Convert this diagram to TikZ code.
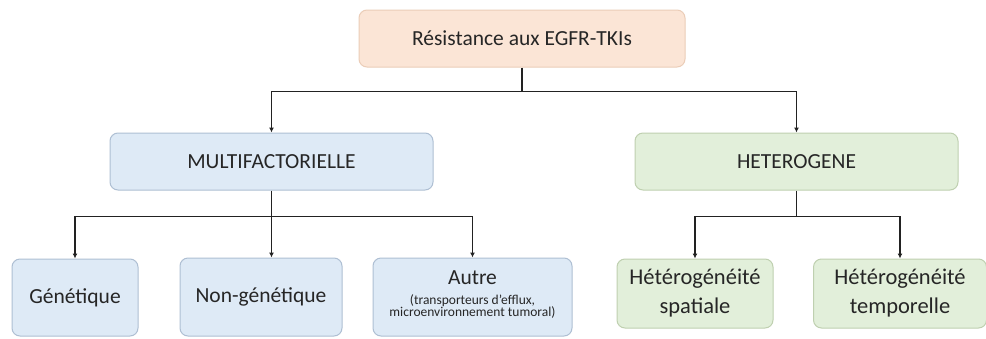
\documentclass[tikz,border=0pt]{standalone}
\usepackage{fontspec}
\setmainfont{Carlito}
\usetikzlibrary{arrows.meta}

\definecolor{peachfill}{HTML}{FBE5D6}
\definecolor{peachline}{HTML}{EBCDB8}
\definecolor{bluefill}{HTML}{DEEAF6}
\definecolor{blueline}{HTML}{AEBFD3}
\definecolor{greenfill}{HTML}{E2EFDA}
\definecolor{greenline}{HTML}{BFD0B0}
\definecolor{txt}{HTML}{262626}
\definecolor{wire}{HTML}{222222}

\newcommand{\notefont}{\fontsize{13.5}{12}\selectfont}

\tikzset{
  box/.style={draw, rounded corners=8pt, line width=1pt, align=center,
    inner sep=0pt, text=txt, font=\fontsize{21.5}{25}\selectfont},
  rootbox/.style={box, fill=peachfill, draw=peachline},
  bluebox/.style={box, fill=bluefill, draw=blueline},
  greenbox/.style={box, fill=greenfill, draw=greenline},
  wireline/.style={draw=wire, line width=1.6pt},
  arrowline/.style={wireline, -{Latex[length=5pt,width=5pt]}}
}

\begin{document}
\begin{tikzpicture}[x=1pt, y=-1pt]
  \fill[white] (0,0) rectangle (986,338);
  \useasboundingbox (0,0) rectangle (986,338);

  % top level
  \node[rootbox, minimum width=326pt, minimum height=57pt] (root) at (522,38.5)
    {Résistance aux EGFR-TKIs};

  % second level
  \node[bluebox, minimum width=323pt, minimum height=57pt] (multi) at (271.5,161.5)
    {MULTIFACTORIELLE};
  \node[greenbox, minimum width=323pt, minimum height=57pt] (hetero) at (796.5,161.5)
    {HETEROGENE};

  % third level, left branch
  \node[bluebox, minimum width=126pt, minimum height=77pt] (gen) at (75,297.5)
    {Génétique};
  \node[bluebox, minimum width=162pt, minimum height=78pt] (nong) at (261,297)
    {Non-génétique};
  \node[bluebox, minimum width=199pt, minimum height=78pt] (autre) at (472.5,297)
    {\mbox{}\\[-16pt]Autre\\[-5pt]{\notefont (transporteurs d’efflux,}\\[-13pt]
     {\notefont microenvironnement tumoral)}};

  % third level, right branch
  \node[greenbox, font=\fontsize{22.5}{29}\selectfont,
    minimum width=156pt, minimum height=69pt] (spat) at (695,293.5)
    {Hétérogénéité\\spatiale};
  \node[greenbox, font=\fontsize{22.5}{29}\selectfont,
    minimum width=173pt, minimum height=69pt] (temp) at (900,293.5)
    {Hétérogénéité\\temporelle};

  % junction points of the elbow connectors
  \coordinate (j1) at (522,91.5);
  \coordinate (j2) at (271.5,216.5);
  \coordinate (j3) at (796.5,216.5);

  \draw[wireline] (root.south) -- (j1);
  \draw[arrowline] (j1) -| (multi.north);
  \draw[arrowline] (j1) -| (hetero.north);

  \draw[wireline] (multi.south) -- (j2);
  \draw[arrowline] (j2) -| (gen.north);
  \draw[arrowline] (j2) -- (nong.north -| j2);
  \draw[arrowline] (j2) -| (autre.north);

  \draw[wireline] (hetero.south) -- (j3);
  \draw[arrowline] (j3) -| (spat.north);
  \draw[arrowline] (j3) -| (temp.north);
\end{tikzpicture}
\end{document}
